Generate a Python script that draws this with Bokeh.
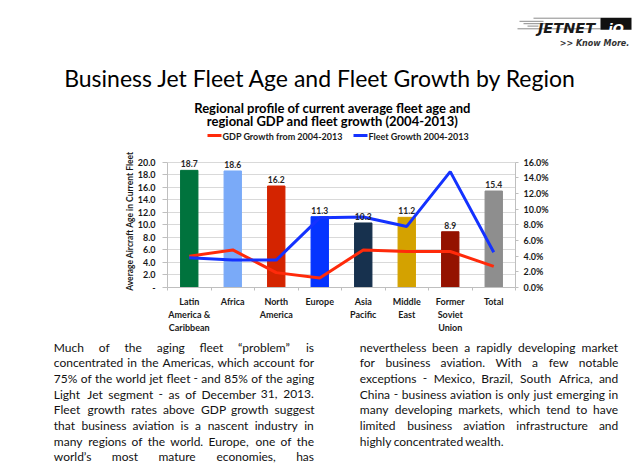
from bokeh.plotting import figure
from bokeh.layouts import column
from bokeh.models import (Range1d, LinearAxis, FixedTicker,
                          CustomJSTickFormatter, PrintfTickFormatter, ColumnDataSource, LabelSet)
from bokeh.core.properties import value
from bokeh.embed import file_html
from bokeh.resources import INLINE

# ---------------- data ----------------
regions = ["Latin\nAmerica &\nCaribbean", "Africa", "North\nAmerica", "Europe",
           "Asia\nPacific", "Middle\nEast", "Former\nSoviet\nUnion", "Total"]
avg_age = [18.7, 18.6, 16.2, 11.3, 10.3, 11.2, 8.9, 15.4]
gdp_growth = [4.0, 4.8, 1.9, 1.2, 4.8, 4.6, 4.6, 2.7]        # percent, right axis
fleet_growth = [3.8, 3.5, 3.5, 8.9, 9.0, 7.8, 14.8, 4.5]    # percent, right axis
bar_colors = ["#00733D", "#7AAAF8", "#D42400", "#0534FF", "#17314E", "#D4A200", "#941200", "#8E8E8E"]
age_ticks = [0, 2, 4, 6, 8, 10, 12, 14, 16, 18, 20]
pct_ticks = [0, 2, 4, 6, 8, 10, 12, 14, 16]

title_text = "Business Jet Fleet Age and Fleet Growth by Region"
subtitle_lines = ["Regional profile of current average fleet age and",
                  "regional GDP and fleet growth (2004-2013)"]
gdp_label = "GDP Growth from 2004-2013"
fleet_label = "Fleet Growth 2004-2013"
y_label = "Average Aircraft Age in Current Fleet"
col1_lines = ["Much of the aging fleet \u201cproblem\u201d is",
              "concentrated in the Americas, which account for",
              "75% of the world jet fleet - and 85% of the aging",
              "Light Jet segment - as of December 31, 2013.",
              "Fleet growth rates above GDP growth suggest",
              "that business aviation is a nascent industry in",
              "many regions of the world.  Europe, one of the",
              "world\u2019s most mature economies, has"]
col2_lines = ["nevertheless been a rapidly developing market",
              "for business aviation.  With a few notable",
              "exceptions - Mexico, Brazil, South Africa, and",
              "China - business aviation is only just emerging in",
              "many developing markets, which tend to have",
              "limited business aviation infrastructure and",
              "highly concentrated wealth."]

FONT = "Lato"
RED = "#FF2A0A"
BLUE = "#1432FF"
PW = 640
TOP_H, CHART_H, BOT_H = 150, 185, 130
FL, FR, FT, FB = 167, 515, 162, 292   # chart frame (ticks 0..20) in page pixels
F_TOP = 154                            # actual frame top (room for value labels)


def no_align(f):
    try:
        f.frame_align = False
    except Exception:
        pass
    return f


def blank(h, y0):
    f = figure(width=PW, height=h, x_range=Range1d(0, PW), y_range=Range1d(y0 + h, y0),
               output_backend="svg", toolbar_location=None,
               x_axis_location=None, y_axis_location=None,
               min_border_left=0, min_border_right=0, min_border_top=0, min_border_bottom=0)
    f.outline_line_color = None
    f.xgrid.visible = False
    f.ygrid.visible = False
    return no_align(f)


# ---------------- top block: title, subtitle, legend, logo ----------------
top = blank(TOP_H, 0)
top.text(x=[320], y=[77.5], text=[title_text], text_align="center", text_baseline="alphabetic",
         text_font=value(FONT), text_font_size="23px", text_color="#000000")
top.text(x=[332, 332], y=[107.3, 120.7], text=subtitle_lines, text_align="center",
         text_baseline="alphabetic", text_font=value(FONT), text_font_style="bold",
         text_font_size="13px", text_color="#000000")
# legend
top.segment(x0=[207], x1=[221], y0=[135], y1=[135], line_color=RED, line_width=3)
top.segment(x0=[353], x1=[367], y0=[135], y1=[135], line_color=BLUE, line_width=3)
top.text(x=[222, 368], y=[135.5, 135.5], text=[gdp_label, fleet_label], text_align="left",
         text_baseline="middle", text_font=value(FONT), text_font_style="bold",
         text_font_size="9px", text_color="#1a1a1a")
# logo
top.segment(x0=[533, 517, 519, 523, 527], x1=[600, 600, 543, 546, 538],
            y0=[17.7, 28.3, 20.8, 23.2, 25.6], y1=[17.7, 28.3, 20.8, 23.2, 25.6],
            line_color="#8a8a8a", line_width=1)
top.quad(left=[600], right=[631], top=[17.2], bottom=[29.3], fill_color="#111111", line_color=None)
top.text(x=[566], y=[27.8], text=["JETNET"], text_align="center", text_baseline="alphabetic",
         text_font=value("DejaVu Sans"), text_font_style="bold italic", text_font_size="14.5px",
         text_color="#1a1a1a")
top.text(x=[615.5], y=[27.8], text=["iQ"], text_align="center", text_baseline="alphabetic",
         text_font=value("DejaVu Sans"), text_font_style="bold italic", text_font_size="13px",
         text_color="white")
top.text(x=[594], y=[42.5], text=[">> Know More."], text_align="center", text_baseline="alphabetic",
         text_font=value("DejaVu Sans"), text_font_style="bold italic", text_font_size="8px",
         text_color="#333333")

# ---------------- chart ----------------
n = len(regions)
centers = [i + 0.5 for i in range(n)]
bounds = list(range(n + 1))
px_per_unit = (FB - FT) / 20.0
y_end = (FB - F_TOP) / px_per_unit

p = figure(width=PW, height=CHART_H, x_range=Range1d(0, n), y_range=Range1d(0, y_end),
           output_backend="svg", toolbar_location=None, x_axis_location=None,
           min_border_left=FL, min_border_right=PW - FR,
           min_border_top=F_TOP - TOP_H, min_border_bottom=TOP_H + CHART_H - FB)
no_align(p)
p.outline_line_color = None
p.background_fill_color = "white"
p.border_fill_color = "white"
p.xgrid.visible = False
p.ygrid.ticker = FixedTicker(ticks=age_ticks)
p.ygrid.grid_line_color = "#D9D9D9"
p.extra_y_ranges = {"pct": Range1d(0, y_end * 16 / 20)}

ya = p.yaxis[0]
ya.ticker = FixedTicker(ticks=age_ticks)
ya.bounds = (0, 20)
ya.formatter = CustomJSTickFormatter(code="return tick == 0 ? '-' : tick.toFixed(1)")
ya.axis_line_color = "#BFBFBF"
ya.major_tick_line_color = "#BFBFBF"
ya.major_tick_out = 5
ya.major_tick_in = 0
ya.minor_tick_line_color = None
ya.major_label_standoff = 7
ya.major_label_text_font = FONT
ya.major_label_text_font_style = "bold"
ya.major_label_text_font_size = "9px"
ya.major_label_text_color = "#1a1a1a"
ya.axis_label = y_label
ya.axis_label_text_font = FONT
ya.axis_label_text_font_style = "bold"
ya.axis_label_text_font_size = "8.5px"
ya.axis_label_text_color = "#1a1a1a"
ya.axis_label_standoff = 0

ra = LinearAxis(y_range_name="pct", ticker=FixedTicker(ticks=pct_ticks),
                formatter=PrintfTickFormatter(format="%.1f%%"), bounds=(0, 16))
ra.axis_line_color = "#BFBFBF"
ra.major_tick_line_color = "#BFBFBF"
ra.major_tick_out = 3
ra.major_tick_in = 0
ra.minor_tick_line_color = None
ra.major_label_standoff = 5
ra.major_label_text_font = FONT
ra.major_label_text_font_style = "bold"
ra.major_label_text_font_size = "9px"
ra.major_label_text_color = "#1a1a1a"
p.add_layout(ra, "right")

ta = LinearAxis(ticker=FixedTicker(ticks=bounds),
                formatter=CustomJSTickFormatter(code="return ''"))
ta.axis_line_color = "#BFBFBF"
ta.major_tick_line_color = "#BFBFBF"
ta.major_tick_out = 3
ta.major_tick_in = 0
ta.minor_tick_line_color = None
ta.major_label_standoff = 0
ta.major_label_text_font_size = "0px"
p.add_layout(ta, "below")

ca = LinearAxis(ticker=FixedTicker(ticks=centers),
                major_label_overrides={c: r for c, r in zip(centers, regions)})
ca.axis_line_color = None
ca.major_tick_line_color = None
ca.major_tick_out = 0
ca.major_tick_in = 0
ca.minor_tick_line_color = None
ca.major_label_standoff = 5
ca.major_label_text_font = FONT
ca.major_label_text_font_style = "bold"
ca.major_label_text_font_size = "9px"
ca.major_label_text_color = "#1a1a1a"
p.add_layout(ca, "below")

src = ColumnDataSource(dict(x=centers, region=regions, age=avg_age, color=bar_colors,
                            lab=["%.1f" % v for v in avg_age],
                            gdp=gdp_growth, fleet=fleet_growth))
p.vbar(x="x", top="age", width=0.4, fill_color="color", line_color="color", source=src)
p.line(x="x", y="gdp", y_range_name="pct", source=src, line_color=RED, line_width=3)
p.line(x="x", y="fleet", y_range_name="pct", source=src, line_color=BLUE, line_width=3)
p.add_layout(LabelSet(x="x", y="age", text="lab", source=src, y_offset=3,
                      text_align="center", text_baseline="bottom",
                      text_font=value(FONT), text_font_style="bold",
                      text_font_size="8.5px", text_color="#262626"))

# ---------------- bottom block: justified paragraphs ----------------
CW = {' ': .20, 'a': .49, 'b': .56, 'c': .47, 'd': .56, 'e': .52, 'f': .32, 'g': .50, 'h': .56,
      'i': .24, 'j': .24, 'k': .49, 'l': .24, 'm': .84, 'n': .56, 'o': .56, 'p': .56, 'q': .56,
      'r': .36, 's': .42, 't': .35, 'u': .56, 'v': .52, 'w': .78, 'x': .50, 'y': .52, 'z': .46,
      '.': .23, ',': .23, '-': .35, '%': .78, '\u201c': .38, '\u201d': .38, '\u2019': .2, '&': .7,
      'I': .28, 'J': .40, 'M': .90, 'W': 1.0}
PFS = 12


def cw(c):
    if c in CW:
        return CW[c]
    if c.isdigit():
        return .58
    if c.isupper():
        return .66
    return .5


def word_w(w):
    return sum(cw(c) for c in w) * PFS


wx, wy, wt = [], [], []


def lay(lines, x0, x1, justified_count):
    for i, line in enumerate(lines):
        Y = 346.5 + 15.7 * i
        words = line.split()
        ws = [word_w(w) for w in words]
        just = i < justified_count and len(words) > 1
        gap = (x1 - x0 - sum(ws)) / (len(words) - 1) if just else CW[' '] * PFS
        X = x0
        for k, (w, wd) in enumerate(zip(words, ws)):
            if just and k == len(words) - 1:
                X = x1 - wd
            wx.append(X)
            wy.append(Y)
            wt.append(w)
            X += wd + gap


lay(col1_lines, 53.3, 313.3, len(col1_lines))
lay(col2_lines, 359.3, 617.7, len(col2_lines) - 1)

bot = blank(BOT_H, TOP_H + CHART_H)
bot.text(x="x", y="y", text="t", source=ColumnDataSource(dict(x=wx, y=wy, t=wt)),
         text_align="left", text_baseline="alphabetic", text_font=value(FONT),
         text_font_size="12px", text_color="#111111")

layout = column(top, p, bot, spacing=0)
open("out.html", "w").write(file_html(layout, INLINE))
